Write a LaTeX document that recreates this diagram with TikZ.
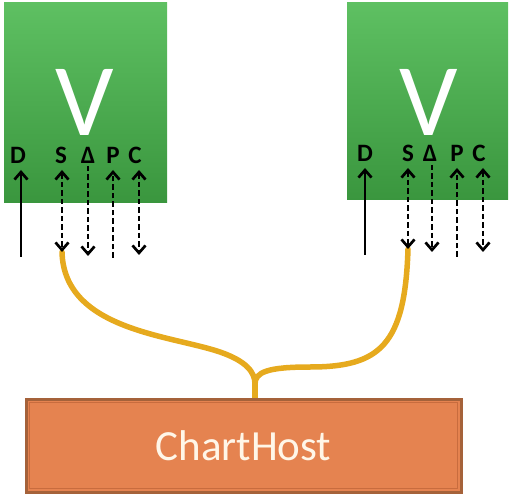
\documentclass[tikz,border=0pt]{standalone}
\usepackage{fontspec}
\setmainfont{Carlito}
\usetikzlibrary{arrows.meta}
\definecolor{gtop}{RGB}{94,192,98}
\definecolor{gbot}{RGB}{58,150,62}
\definecolor{hostfill}{RGB}{229,131,80}
\definecolor{hostedge}{RGB}{165,98,58}
\definecolor{hostinner}{RGB}{200,108,62}
\definecolor{hosttext}{RGB}{255,246,232}
\definecolor{wire}{RGB}{230,170,30}
\begin{document}
\begin{tikzpicture}[x=1pt,y=-1pt,
  vbox/.style={inner sep=0pt, top color=gtop, bottom color=gbot, draw=none},
  bigv/.style={text=white, font=\fontsize{103}{103}\selectfont, anchor=base, inner sep=0pt, text depth=0pt, text height=66pt},
  chan/.style={font=\fontsize{25}{25}\selectfont\bfseries, anchor=base, inner sep=0pt, text depth=0pt, text height=16pt},
  tipstyle/.style={line width=2.7pt},
  solidarr/.style={tipstyle, -{Straight Barb[length=7.5pt,width=13pt]}},
  dashup/.style={tipstyle, dash pattern=on 5.5pt off 3pt, -{Straight Barb[length=7.5pt,width=13pt]}},
  dashdown/.style={tipstyle, dash pattern=on 5.5pt off 3pt, -{Straight Barb[length=7.5pt,width=13pt]}},
  dashboth/.style={tipstyle, dash pattern=on 5.5pt off 3pt, {Straight Barb[length=7.5pt,width=13pt]}-{Straight Barb[length=7.5pt,width=13pt]}},
  wirestyle/.style={draw=wire, line width=5.5pt, line cap=round}
]
\useasboundingbox (0,0) rectangle (511,494);

% green view boxes
\node[vbox, minimum width=163pt, minimum height=200pt] (lbox) at (85.5,103) {};
\node[vbox, minimum width=161pt, minimum height=197pt] (rbox) at (427.5,101.5) {};

\node[bigv] (lv) at (85,136) {V};
\node[bigv] (rv) at (429,136) {V};

% channel letters left
\node[chan] (lD) at (18,164) {D};
\node[chan] (lS) at (61,164) {S};
\node[chan] (lT) at (88,164) {Δ};
\node[chan] (lP) at (113,164) {P};
\node[chan] (lC) at (135,164) {C};
% channel letters right
\node[chan] (rD) at (365,162) {D};
\node[chan] (rS) at (408,162) {S};
\node[chan] (rT) at (430,162) {Δ};
\node[chan] (rP) at (457,162) {P};
\node[chan] (rC) at (479,162) {C};

% ChartHost
\node[draw=hostedge, line width=3pt, fill=hostfill, minimum width=435pt, minimum height=93pt, inner sep=0pt] (host) at (243.5,445.5) {};
\draw[hostinner, line width=0.8pt] ([shift={(5pt,-5pt)}]host.north west) rectangle ([shift={(-5pt,5pt)}]host.south east);
\node[text=hosttext, font=\fontsize{43}{43}\selectfont, inner sep=0pt] (hostlabel) at (host.center) {ChartHost};

% arrow end points left
\coordinate (lDa) at (21,257); \coordinate (lDb) at (21,170);
\coordinate (lSa) at (62,170); \coordinate (lSb) at (62,252);
\coordinate (lTa) at (88,166); \coordinate (lTb) at (88,256);
\coordinate (lPa) at (113,258); \coordinate (lPb) at (113,170);
\coordinate (lCa) at (139,170); \coordinate (lCb) at (139,255);
% right
\coordinate (rDa) at (365,255); \coordinate (rDb) at (365,168);
\coordinate (rSa) at (408,168); \coordinate (rSb) at (408,249);
\coordinate (rTa) at (432,165); \coordinate (rTb) at (432,252);
\coordinate (rPa) at (457,257); \coordinate (rPb) at (457,168);
\coordinate (rCa) at (483,168); \coordinate (rCb) at (483,252);

% wires
\coordinate (join) at (255,384);
\draw[wirestyle] (lSb) .. controls (64,330) and (170,335) .. (220,352) .. controls (246,361) and (255,372) .. (join);
\draw[wirestyle] (rSb) .. controls (405,345) and (380,367) .. (310,367) .. controls (268,367) and (255,372) .. (join);
\draw[wirestyle, line cap=butt] (join) -- (join |- host.north);

% arrows left
\draw[solidarr] (lDa) -- (lDb);
\draw[dashboth] (lSa) -- (lSb);
\draw[dashdown] (lTa) -- (lTb);
\draw[dashup] (lPa) -- (lPb);
\draw[dashboth] (lCa) -- (lCb);
% arrows right
\draw[solidarr] (rDa) -- (rDb);
\draw[dashboth] (rSa) -- (rSb);
\draw[dashdown] (rTa) -- (rTb);
\draw[dashup] (rPa) -- (rPb);
\draw[dashboth] (rCa) -- (rCb);
\end{tikzpicture}
\end{document}
